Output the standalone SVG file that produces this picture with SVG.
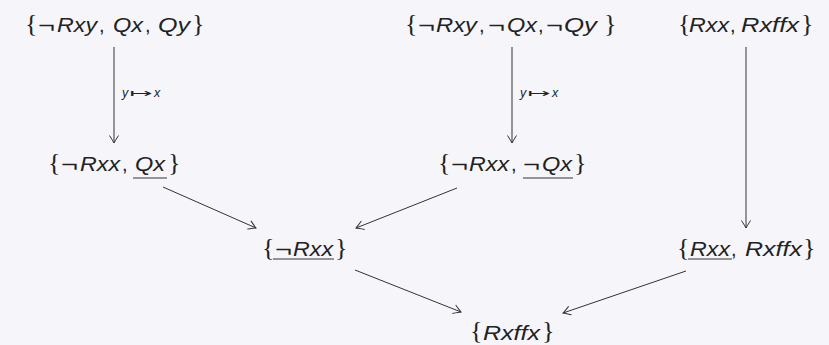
<svg xmlns="http://www.w3.org/2000/svg" width="829" height="345" viewBox="0 0 829 345">
<defs>
<marker id="ah" markerWidth="12" markerHeight="12" refX="0" refY="0" viewBox="-9 -6 11 12" orient="auto" markerUnits="userSpaceOnUse">
<path d="M -7.5 -4.5 Q -2 -1 0 0 Q -2 1 -7.5 4.5" fill="none" stroke="#333" stroke-width="1"/>
</marker>
<style>
text{font-family:"Liberation Sans","DejaVu Sans",sans-serif;fill:#222}
.v{font-size:20px;font-style:italic}
.g{font-size:20px}
.b{font-family:"Liberation Serif","DejaVu Serif",serif;font-size:26px}
.c{font-size:20px}
.l{font-size:12.5px;font-style:italic}
.m{font-family:"DejaVu Sans",sans-serif;font-size:12px}
.e{fill:none;stroke:#333;stroke-width:1;marker-end:url(#ah)}
.u{stroke:#333;stroke-width:1}
</style>
</defs>
<rect width="829" height="345" fill="#f6f6fa"/>
<g id="connectors">
<line class="e" x1="114" y1="47" x2="114" y2="143"/>
<line class="e" x1="512" y1="47" x2="512" y2="143"/>
<line class="e" x1="746" y1="47" x2="746" y2="228"/>
<line class="e" x1="163" y1="187" x2="256" y2="228"/>
<line class="e" x1="457" y1="188" x2="356" y2="228"/>
<line class="e" x1="355" y1="270" x2="461" y2="312"/>
<line class="e" x1="686" y1="271" x2="563" y2="313"/>
<text class="l" x="122" y="97">y</text><text class="m" x="129" y="97" textLength="23" lengthAdjust="spacingAndGlyphs">↦</text><text class="l" x="154" y="97">x</text>
<text class="l" x="520" y="97">y</text><text class="m" x="527" y="97" textLength="23" lengthAdjust="spacingAndGlyphs">↦</text><text class="l" x="552" y="97">x</text>
</g>
<g id="n1">
<text class="b" x="25" y="32">{</text>
<text class="g" x="38" y="32" textLength="17" lengthAdjust="spacingAndGlyphs">¬</text>
<text class="v" x="57" y="32" textLength="40" lengthAdjust="spacingAndGlyphs">Rxy</text>
<text class="c" x="99" y="32">,</text>
<text class="v" x="113" y="32" textLength="30" lengthAdjust="spacingAndGlyphs">Qx</text>
<text class="c" x="145" y="32">,</text>
<text class="v" x="158" y="32" textLength="32" lengthAdjust="spacingAndGlyphs">Qy</text>
<text class="b" x="192" y="32">}</text>
</g>
<g id="n2">
<text class="b" x="48" y="171">{</text>
<text class="g" x="61" y="171" textLength="17" lengthAdjust="spacingAndGlyphs">¬</text>
<text class="v" x="80" y="171" textLength="40" lengthAdjust="spacingAndGlyphs">Rxx</text>
<text class="c" x="122" y="171">,</text>
<text class="v" x="135" y="171" textLength="30" lengthAdjust="spacingAndGlyphs">Qx</text>
<text class="b" x="168" y="171">}</text>
<line class="u" x1="133" y1="178" x2="167" y2="178"/>
</g>
<g id="n3">
<text class="b" x="405" y="32">{</text>
<text class="g" x="418" y="32" textLength="17" lengthAdjust="spacingAndGlyphs">¬</text>
<text class="v" x="436" y="32" textLength="41" lengthAdjust="spacingAndGlyphs">Rxy</text>
<text class="c" x="479" y="32">,</text>
<text class="g" x="488" y="32" textLength="17" lengthAdjust="spacingAndGlyphs">¬</text>
<text class="v" x="507" y="32" textLength="30" lengthAdjust="spacingAndGlyphs">Qx</text>
<text class="c" x="538" y="32">,</text>
<text class="g" x="546" y="32" textLength="17" lengthAdjust="spacingAndGlyphs">¬</text>
<text class="v" x="564" y="32" textLength="33" lengthAdjust="spacingAndGlyphs">Qy</text>
<text class="b" x="604" y="32">}</text>
</g>
<g id="n4">
<text class="b" x="678" y="32">{</text>
<text class="v" x="689" y="32" textLength="40" lengthAdjust="spacingAndGlyphs">Rxx</text>
<text class="c" x="730" y="32">,</text>
<text class="v" x="741" y="32" textLength="58" lengthAdjust="spacingAndGlyphs">Rxffx</text>
<text class="b" x="801" y="32">}</text>
</g>
<g id="n5">
<text class="b" x="438" y="171">{</text>
<text class="g" x="451" y="171" textLength="17" lengthAdjust="spacingAndGlyphs">¬</text>
<text class="v" x="469" y="171" textLength="40" lengthAdjust="spacingAndGlyphs">Rxx</text>
<text class="c" x="511" y="171">,</text>
<text class="g" x="523" y="171" textLength="17" lengthAdjust="spacingAndGlyphs">¬</text>
<text class="v" x="542" y="171" textLength="30" lengthAdjust="spacingAndGlyphs">Qx</text>
<text class="b" x="574" y="171">}</text>
<line class="u" x1="523" y1="178" x2="573" y2="178"/>
</g>
<g id="n6">
<text class="b" x="262" y="256">{</text>
<text class="g" x="275" y="256" textLength="17" lengthAdjust="spacingAndGlyphs">¬</text>
<text class="v" x="293" y="256" textLength="40" lengthAdjust="spacingAndGlyphs">Rxx</text>
<text class="b" x="335" y="256">}</text>
<line class="u" x1="273" y1="259" x2="334" y2="259"/>
</g>
<g id="n7">
<text class="b" x="677" y="256">{</text>
<text class="v" x="690" y="256" textLength="40" lengthAdjust="spacingAndGlyphs">Rxx</text>
<text class="c" x="731" y="256">,</text>
<text class="v" x="745" y="256" textLength="57" lengthAdjust="spacingAndGlyphs">Rxffx</text>
<text class="b" x="803" y="256">}</text>
<line class="u" x1="688" y1="259" x2="732" y2="259"/>
</g>
<g id="n8">
<text class="b" x="470" y="339">{</text>
<text class="v" x="483" y="340" textLength="57" lengthAdjust="spacingAndGlyphs">Rxffx</text>
<text class="b" x="542" y="339">}</text>
</g>
</svg>
